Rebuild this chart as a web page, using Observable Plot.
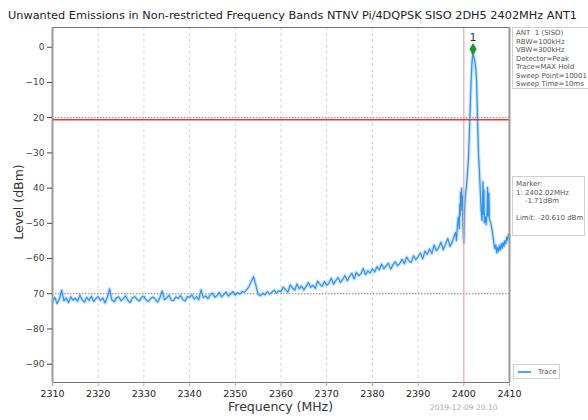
<!DOCTYPE html>
<html>
<head>
<meta charset="utf-8">
<script src="https://cdn.jsdelivr.net/npm/d3@7"></script>
<script src="https://cdn.jsdelivr.net/npm/@observablehq/plot@0.6"></script>
<style>
  html, body { margin: 0; padding: 0; background: #fff; }
  #wrap { position: relative; width: 588px; height: 420px; overflow: hidden; font-family: "DejaVu Sans", sans-serif; }
  #wrap svg { position: absolute; left: 0; top: 0; }
  .abs { position: absolute; white-space: pre; }
  .box { position: absolute; background: #fff; border: 1px solid #d0d0d0; box-sizing: border-box; font-size: 7px; line-height: 8.5px; color: #555; padding: 1px 3px; white-space: pre; }
</style>
</head>
<body>
<div id="wrap"></div>
<script>
// ---- data ----
const title = "Unwanted Emissions in Non-restricted Frequency Bands NTNV Pi/4DQPSK SISO 2DH5 2402MHz ANT1";
const xLabel = "Frequency (MHz)";
const yLabel = "Level (dBm)";
const xTicks = [2310, 2320, 2330, 2340, 2350, 2360, 2370, 2380, 2390, 2400, 2410];
const yTicks = [-90, -80, -70, -60, -50, -40, -30, -20, -10, 0];
const yTickLabels = ["\u221290", "\u221280", "70", "\u221260", "\u221250", "40", "\u221230", "20", "\u221210", "0"];
const gridFreqs = [2320, 2330, 2340, 2350, 2360, 2370, 2380, 2390];
const refLevels = [-20, -70];
const limitLevel = -20.61;
const centerFreq = 2400;
const markerFreq = 2402.02;
const markerLevel = -1.71;
const markerName = "1";
const sweepStart = 2310;
const sweepStep = 0.5;
// levels every 0.5 MHz from 2310 to 2398 (dBm)
const baseLevels = [
  -72.3, -71.0, -72.8, -71.5, -69.0, -72.0, -71.2, -72.5, -70.9, -71.8,
  -71.3, -72.1, -70.4, -71.7, -72.4, -71.0, -71.9, -70.7, -72.2, -71.4,
  -70.8, -71.9, -71.2, -72.6, -71.0, -68.6, -71.8, -72.3, -71.1, -70.9,
  -72.0, -71.4, -70.6, -71.9, -72.5, -71.2, -70.8, -71.6, -72.1, -71.0,
  -70.7, -71.8, -72.2, -71.3, -70.9, -71.6, -72.4, -71.1, -69.2, -71.7,
  -71.2, -70.4, -71.8, -72.0, -70.9, -71.3, -70.5, -71.6, -72.1, -70.8,
  -71.0, -70.3, -71.5, -70.8, -71.7, -68.9, -71.1, -70.6, -71.4, -70.4,
  -69.8, -71.0, -70.5, -69.6, -70.9, -70.2, -69.5, -70.7, -70.0, -69.4,
  -70.4, -69.7, -70.1, -69.3, -69.6, -68.8, -68.0, -66.4, -65.2, -67.6,
  -70.2, -70.6, -69.8, -70.3, -69.4, -70.1, -69.6, -69.0, -69.8, -69.2,
  -69.4, -68.1, -68.8, -69.6, -67.5, -68.3, -69.0, -67.2, -68.6, -67.8,
  -68.9, -67.9, -66.8, -68.2, -67.6, -68.5, -66.4, -67.3, -67.9, -66.5,
  -67.6, -66.9, -65.6, -67.3, -66.2, -65.4, -66.8, -66.0, -64.8, -66.3,
  -65.1, -64.2, -65.8, -63.9, -64.9, -64.3, -62.8, -64.6, -63.5, -64.1,
  -62.9, -63.8, -62.3, -63.2, -61.6, -62.9, -62.1, -61.3, -63.0, -61.8,
  -60.9, -62.0, -61.4, -60.2, -61.5, -59.6, -60.7, -61.1, -59.2, -60.3,
  -59.5, -58.4, -60.1, -57.9, -58.8, -57.3, -58.6, -56.2, -57.8, -56.9,
  -55.4, -57.5, -56.0, -54.3, -56.6, -55.2, -53.2
];
// fine sweep near the carrier
const peakFreqs = [
  2398.2, 2398.4, 2398.6, 2398.8, 2399.0, 2399.1, 2399.2, 2399.3, 2399.4, 2399.5,
  2399.6, 2399.7, 2399.8, 2399.9, 2400.0, 2400.1, 2400.2, 2400.4, 2400.6, 2400.8,
  2401.0, 2401.2, 2401.4, 2401.6, 2401.8, 2402.0, 2402.2, 2402.4, 2402.6, 2402.8,
  2403.0, 2403.2, 2403.4, 2403.6, 2403.8, 2404.0, 2404.1, 2404.2, 2404.3, 2404.4,
  2404.5, 2404.7, 2404.9, 2405.1, 2405.2, 2405.3, 2405.5, 2405.6, 2405.8, 2406.0,
  2406.2, 2406.4, 2406.6, 2406.8, 2407.0, 2407.2, 2407.4, 2407.6, 2407.8, 2408.0,
  2408.2, 2408.4, 2408.6, 2408.8, 2409.0, 2409.2, 2409.4, 2409.6, 2409.8, 2410.0
];
const peakLevels = [
  -52.6, -54.9, -50.8, -48.2, -51.5, -44.6, -47.9, -41.2, -46.3, -40.1,
  -45.0, -42.3, -49.6, -53.8, -55.6, -50.2, -44.8, -41.5, -39.3, -35.6,
  -32.0, -25.4, -17.2, -9.8, -4.1, -1.71, -2.6, -3.9, -5.8, -9.5,
  -20.4, -29.8, -34.6, -40.7, -46.5, -49.2, -43.0, -38.2, -47.5, -40.6,
  -49.8, -48.1, -50.3, -46.2, -39.8, -47.9, -41.4, -48.8, -49.5, -50.6,
  -52.0, -53.8, -55.9, -57.2, -56.1, -58.4, -56.8, -58.0, -56.3, -57.6,
  -55.8, -57.1, -55.4, -56.5, -54.9, -55.8, -53.9, -54.8, -53.1, -53.6
];
const infoLines = ["ANT  1 (SISO)", "RBW=100kHz", "VBW=300kHz", "Detector=Peak", "Trace=MAX Hold", "Sweep Point=10001", "Sweep Time=10ms"];
const markerLines = ["Marker:", "1: 2402.02MHz", "    -1.71dBm", "", "Limit: -20.610 dBm"];
const legendLabel = "Trace";
const timestamp = "2019-12-09 20:10";

// ---- build ----
const trace = baseLevels.map((v, i) => ({f: sweepStart + i * sweepStep, v}))
  .concat(peakFreqs.map((f, i) => ({f, v: peakLevels[i]})));

const xDomain = [2310, 2410];
const yDomain = [-95.2, 5.6];

const chart = Plot.plot({
  width: 588,
  height: 420,
  marginLeft: 52,
  marginRight: 79,
  marginTop: 27,
  marginBottom: 38,
  style: {fontFamily: "DejaVu Sans, sans-serif", background: "transparent", overflow: "visible"},
  x: {domain: xDomain},
  y: {domain: yDomain},
  marks: [
    Plot.ruleX(gridFreqs, {stroke: "#d4d4d4", strokeWidth: 1, strokeDasharray: "3,3"}),
    Plot.ruleY(refLevels, {stroke: "#808080", strokeWidth: 1, strokeDasharray: "1.5,1.5"}),
    Plot.line(trace, {x: "f", y: "v", stroke: "#a3cffa", strokeWidth: 3.5, strokeOpacity: 0.6}),
    Plot.line(trace, {x: "f", y: "v", stroke: "#2e93f2", strokeWidth: 1.2}),
    Plot.ruleX([centerFreq], {stroke: "#f2a3a3", strokeWidth: 1.2}),
    Plot.ruleY([limitLevel], {stroke: "#ee3535", strokeWidth: 1.6}),
    Plot.dot([{f: markerFreq, v: markerLevel}], {x: "f", y: "v", symbol: "diamond", r: 3.8, fill: "#169a2a", stroke: "none", dy: -4}),
    Plot.text([{f: markerFreq, v: markerLevel}], {x: "f", y: "v", text: () => markerName, dy: -16, fontSize: 11, fill: "#333"}),
    Plot.frame({stroke: "#555", strokeWidth: 0.8}),
    Plot.ruleX(xDomain, {stroke: "#999", strokeWidth: 2}),
    Plot.axisY({ticks: yTicks, tickFormat: (d) => yTickLabels[yTicks.indexOf(d)], tickSize: 5, tickPadding: 3, fontSize: 9, color: "#444", label: null, stroke: "#444"}),
    Plot.axisX({ticks: xTicks, tickFormat: (d) => String(d), tickSize: 4, tickPadding: 4, fontSize: 9.5, color: "#222", label: null, stroke: "#aaa"})
  ]
});

const wrap = document.getElementById("wrap");
wrap.appendChild(chart);

// title as svg text fitted to the reference width
const ns = "http://www.w3.org/2000/svg";
const tsvg = document.createElementNS(ns, "svg");
tsvg.setAttribute("width", "588");
tsvg.setAttribute("height", "24");
const tt = document.createElementNS(ns, "text");
tt.setAttribute("x", "8");
tt.setAttribute("y", "19");
tt.setAttribute("textLength", "569");
tt.setAttribute("lengthAdjust", "spacingAndGlyphs");
tt.setAttribute("font-size", "11");
tt.setAttribute("font-family", "DejaVu Sans, sans-serif");
tt.setAttribute("fill", "#222");
tt.textContent = title;
tsvg.appendChild(tt);
wrap.appendChild(tsvg);

function addText(txt, css) {
  const d = document.createElement("div");
  d.className = "abs";
  d.textContent = txt;
  Object.assign(d.style, css);
  wrap.appendChild(d);
  return d;
}
addText(xLabel, {left: "228px", top: "399px", fontSize: "12.5px", color: "#333"});
addText(yLabel, {left: "18px", top: "202px", fontSize: "12.5px", color: "#333", transform: "translate(-50%,-50%) rotate(-90deg)"});
addText(timestamp, {left: "430px", top: "403px", fontSize: "7.5px", color: "#aaa"});

function addBox(lines, css) {
  const d = document.createElement("div");
  d.className = "box";
  d.textContent = lines.join("\n");
  Object.assign(d.style, css);
  wrap.appendChild(d);
  return d;
}
addBox(infoLines, {left: "512px", top: "27px", width: "80px", height: "62px"});
addBox(markerLines, {left: "512px", top: "176px", width: "73px", height: "60px", paddingTop: "3px"});

const leg = document.createElement("div");
leg.className = "box";
Object.assign(leg.style, {left: "513px", top: "364px", width: "47px", height: "15px", padding: "0"});
leg.innerHTML = '<span style="position:absolute;left:4px;top:6px;width:13px;height:2px;background:#4aa6f5"></span>';
const lt = document.createElement("span");
lt.textContent = legendLabel;
Object.assign(lt.style, {position: "absolute", left: "24px", top: "3px", fontSize: "7px", color: "#555"});
leg.appendChild(lt);
wrap.appendChild(leg);
</script>
</body>
</html>
